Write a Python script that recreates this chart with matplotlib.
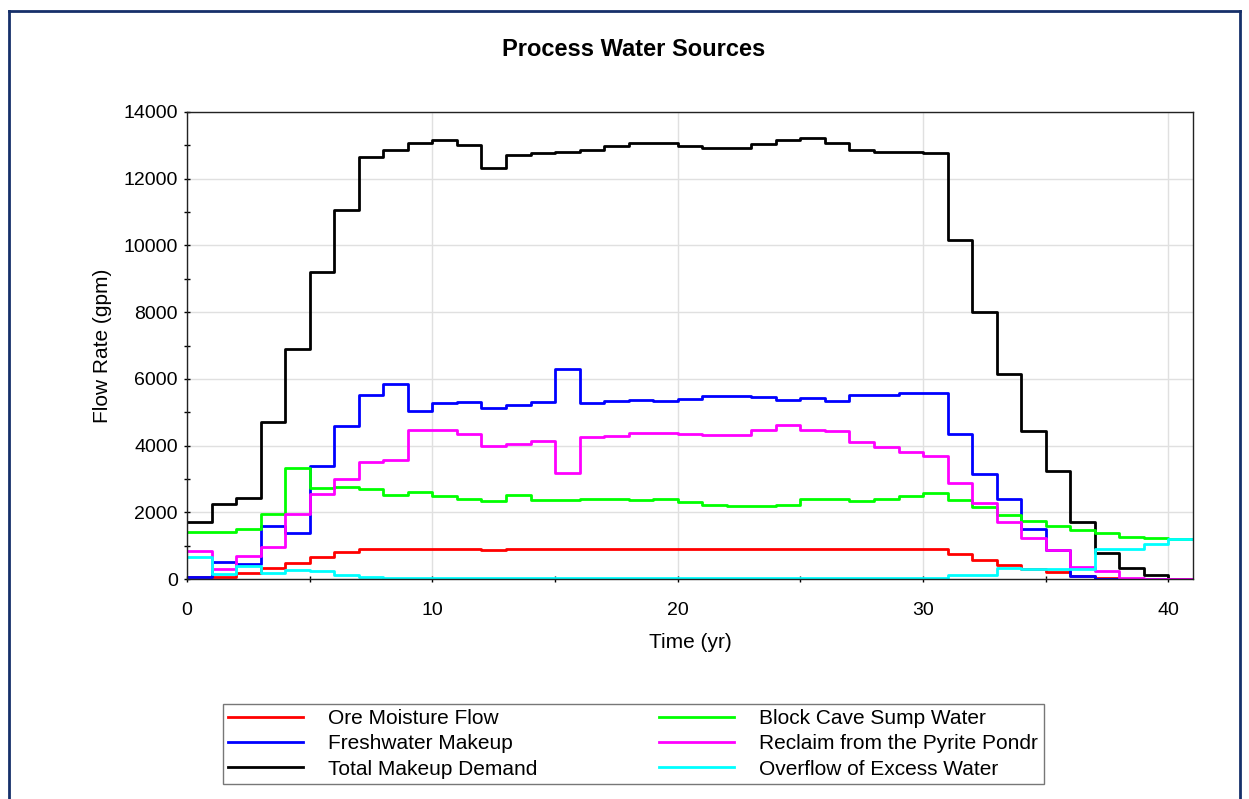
import numpy as np
import matplotlib
matplotlib.use('Agg')
import matplotlib.pyplot as plt
from matplotlib.ticker import MultipleLocator
from matplotlib.lines import Line2D

plt.rcParams['font.family'] = ['Liberation Sans', 'DejaVu Sans']

# yearly values (gpm), one value per year 0..40
years = np.arange(0, 41)

ore_moisture = [50, 50, 170, 335, 485, 645, 800, 905, 905, 905,
                905, 905, 870, 905, 905, 905, 905, 905, 905, 905,
                905, 905, 905, 905, 905, 905, 905, 905, 905, 905,
                905, 740, 565, 420, 300, 210, 90, 40, 10, 0, 0]
freshwater = [60, 520, 440, 1590, 1380, 3390, 4600, 5530, 5850, 5030,
              5280, 5320, 5130, 5210, 5320, 6300, 5290, 5340, 5380, 5350,
              5410, 5480, 5480, 5450, 5380, 5420, 5350, 5530, 5530, 5590,
              5590, 4350, 3160, 2390, 1490, 860, 90, 0, 0, 0, 0]
total_demand = [1700, 2260, 2430, 4700, 6900, 9190, 11060, 12650, 12860, 13060,
                13150, 13010, 12330, 12720, 12760, 12800, 12860, 12970, 13080, 13080,
                12970, 12920, 12920, 13040, 13150, 13230, 13080, 12860, 12790, 12790,
                12760, 10150, 8010, 6160, 4440, 3230, 1700, 770, 330, 130, 0]
block_cave = [1410, 1410, 1510, 1950, 3320, 2730, 2750, 2700, 2530, 2610,
              2480, 2400, 2330, 2520, 2370, 2370, 2400, 2400, 2370, 2400,
              2300, 2230, 2200, 2200, 2230, 2400, 2400, 2330, 2400, 2480,
              2580, 2370, 2170, 1910, 1730, 1600, 1480, 1390, 1270, 1230, 1200]
pyrite_reclaim = [845, 305, 695, 960, 1950, 2550, 3000, 3520, 3570, 4460,
                  4460, 4350, 3990, 4060, 4140, 3180, 4260, 4280, 4380, 4380,
                  4350, 4310, 4310, 4460, 4630, 4480, 4430, 4110, 3960, 3820,
                  3700, 2880, 2265, 1720, 1230, 858, 350, 250, 20, 0, 0]
overflow = [665, 145, 375, 175, 275, 235, 130, 60, 25, 25,
            25, 25, 25, 25, 25, 25, 25, 25, 25, 25,
            25, 25, 25, 25, 25, 25, 40, 40, 40, 40,
            40, 115, 115, 340, 300, 300, 300, 900, 900, 1060, 1200]

series = [
    ('Ore Moisture Flow', ore_moisture, '#ff0000'),
    ('Freshwater Makeup', freshwater, '#0000ff'),
    ('Total Makeup Demand', total_demand, '#000000'),
    ('Block Cave Sump Water', block_cave, '#00ff00'),
    ('Reclaim from the Pyrite Pondr', pyrite_reclaim, '#ff00ff'),
    ('Overflow of Excess Water', overflow, '#00ffff'),
]

W, H = 1249, 799
fig = plt.figure(figsize=(W / 100, H / 100), dpi=100)
ax = fig.add_axes([187 / W, 1 - 579 / H, (1193 - 187) / W, (579 - 112) / H])

x_step = np.append(years, years[-1] + 1)
handles = []
for name, vals, col in series:
    y_step = np.append(vals, vals[-1])
    ax.step(x_step, y_step, where='post', color=col, lw=2.0)
    handles.append(Line2D([], [], color=col, lw=2.0, label=name))

ax.set_xlim(0, 41)
ax.set_ylim(0, 14000)
ax.xaxis.set_major_locator(MultipleLocator(10))
ax.xaxis.set_minor_locator(MultipleLocator(5))
ax.yaxis.set_major_locator(MultipleLocator(2000))
ax.yaxis.set_minor_locator(MultipleLocator(1000))
ax.grid(True, which='major', color='#e0e0e0', lw=1.0)
ax.set_axisbelow(True)
ax.tick_params(which='both', direction='inout', length=5, width=1, labelsize=14)
ax.tick_params(axis='x', pad=14)
ax.tick_params(axis='y', pad=4)
for s in ax.spines.values():
    s.set_linewidth(1.0)
    s.set_color('#222222')

ax.set_xlabel('Time (yr)', fontsize=15, labelpad=10)
ax.set_ylabel('Flow Rate (gpm)', fontsize=15, labelpad=8)

fig.text(634 / W, 1 - 50 / H, 'Process Water Sources', ha='center', va='center',
         fontsize=17, fontweight='bold')

leg = fig.legend(handles=handles, loc='upper left', ncol=2,
                 bbox_to_anchor=(223 / W, 1 - 704 / H), fontsize=15,
                 frameon=True, fancybox=False, handlelength=3.6,
                 handletextpad=1.2, columnspacing=5.85, labelspacing=0.3,
                 borderpad=0.25, borderaxespad=0)
leg.get_frame().set_edgecolor('#555555')
leg.get_frame().set_linewidth(1.0)

# navy outer frame
navy = '#16306a'
x0, x1, y0 = 9 / W, 1240 / W, 1 - 11 / H
fig.add_artist(Line2D([x0, x0], [0, y0], color=navy, lw=2, transform=fig.transFigure))
fig.add_artist(Line2D([x0, x1], [y0, y0], color=navy, lw=2, transform=fig.transFigure))
fig.add_artist(Line2D([x1, x1], [0, y0], color=navy, lw=2, transform=fig.transFigure))

fig.savefig('out.png', dpi=100)
